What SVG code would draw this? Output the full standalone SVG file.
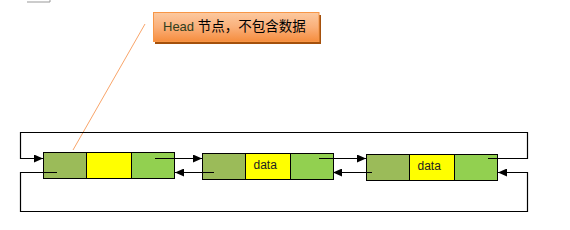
<svg xmlns="http://www.w3.org/2000/svg" width="570" height="230" viewBox="0 0 570 230">
<defs>
  <linearGradient id="og" x1="0" y1="0" x2="0" y2="1">
    <stop offset="0" stop-color="#fcc9a0"/>
    <stop offset="0.5" stop-color="#fab07a"/>
    <stop offset="1" stop-color="#f68d3e"/>
  </linearGradient>
  <marker id="ah" markerWidth="9" markerHeight="8" refX="9" refY="4" orient="auto" markerUnits="userSpaceOnUse">
    <path d="M0,0 L9,4 L0,8 Z" fill="#000"/>
  </marker>
</defs>
<style>
  .c1{fill:#9bbb59;stroke:#000;stroke-width:1}
  .c2{fill:#ffff00;stroke:#000;stroke-width:1}
  .c3{fill:#92d050;stroke:#000;stroke-width:1}
  .ln{fill:none;stroke:#000;stroke-width:1.2}
  .lbl{font-family:"Liberation Sans","Noto Sans CJK SC",sans-serif;font-size:12px;fill:#222}
  .call{font-family:"Liberation Sans","Noto Sans CJK SC",sans-serif;font-size:13.5px;fill:#000}
</style>
<polyline points="27,2 50,2 50,0" fill="none" stroke="#999" stroke-width="1"/>
<g id="callout">
  <line x1="73" y1="150" x2="145" y2="24" stroke="#f9a56a" stroke-width="1"/>
  <rect x="155" y="15" width="166" height="29" fill="#a4500c"/>
  <rect x="153.5" y="12.5" width="165.5" height="29" fill="url(#og)" stroke="#f79646" stroke-width="1"/>
  <text class="call" x="163" y="31"><tspan fill="#2f3f20" font-size="13">Head</tspan> 节点，不包含数据</text>
</g>
<g id="node1">
  <rect class="c1" x="43.5" y="152.5" width="43" height="26"/>
  <rect class="c2" x="86.5" y="152.5" width="45" height="26"/>
  <rect class="c3" x="131.5" y="152.5" width="43" height="26"/>
</g>
<g id="node2">
  <rect class="c1" x="202.5" y="153.5" width="43" height="26"/>
  <rect class="c2" x="245.5" y="153.5" width="45" height="26"/>
  <rect class="c3" x="290.5" y="153.5" width="43" height="26"/>
  <text class="lbl" x="253.5" y="168.5">data</text>
</g>
<g id="node3">
  <rect class="c1" x="366.5" y="154.5" width="43" height="26"/>
  <rect class="c2" x="409.5" y="154.5" width="45" height="26"/>
  <rect class="c3" x="454.5" y="154.5" width="43" height="26"/>
  <text class="lbl" x="417.5" y="169.5">data</text>
</g>
<g id="connectors">
  <polyline class="ln" points="488,158.5 527.5,158.5 527.5,132.5 20.5,132.5 20.5,158.5 43,158.5" marker-end="url(#ah)"/>
  <polyline class="ln" points="57,172.5 20.5,172.5 20.5,211.5 527.5,211.5 527.5,172.5 498,172.5" marker-end="url(#ah)"/>
  <line class="ln" x1="155" y1="158.5" x2="202" y2="158.5" marker-end="url(#ah)"/>
  <line class="ln" x1="214" y1="172.5" x2="175" y2="172.5" marker-end="url(#ah)"/>
  <line class="ln" x1="319" y1="158.5" x2="366" y2="158.5" marker-end="url(#ah)"/>
  <line class="ln" x1="372" y1="172.5" x2="333" y2="172.5" marker-end="url(#ah)"/>
</g>
</svg>
